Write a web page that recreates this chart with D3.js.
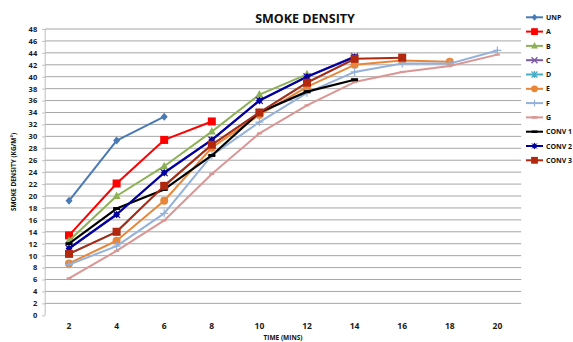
<!DOCTYPE html>
<html><head><meta charset="utf-8">
<script src="https://cdn.jsdelivr.net/npm/d3@7"></script>
<style>body{margin:0;background:#fff;overflow:hidden}svg{display:block;font-family:"Open Sans","Liberation Sans",sans-serif}</style>
</head><body><svg id="c" width="573" height="342"></svg>
<script>
const times = [2,4,6,8,10,12,14,16,18,20];
const yTicks = d3.range(0, 49, 2);
const UNP   = [19.2, 29.3, 33.3];
const A     = [13.4, 22.1, 29.4, 32.5];
const B     = [12.5, 20.0, 25.0, 30.8, 37.0, 40.4];
const C     = [11.2, 16.9, 23.9, 29.4, 36.0, 40.0, 43.4];
const D     = [10.3, 14.0, 21.7, 28.6, 34.0, 39.0, 43.0];
const E     = [8.7, 12.5, 19.2, 28.1, 33.6, 38.3, 42.0, 42.7, 42.5];
const F     = [8.5, 11.6, 17.1, 26.8, 32.4, 37.3, 40.8, 42.2, 42.2, 44.4];
const G     = [6.2, 10.8, 15.9, 23.7, 30.5, 35.2, 39.1, 40.8, 41.8, 43.7];
const CONV1 = [12.0, 17.9, 21.1, 26.8, 34.0, 37.5, 39.5];
const CONV2 = [11.2, 16.9, 23.9, 29.4, 36.0, 40.0, 43.3];
const CONV3 = [10.3, 14.0, 21.7, 28.6, 34.0, 39.0, 43.0, 43.2];
const names = ["UNP","A","B","C","D","E","F","G","CONV 1","CONV 2","CONV 3"];
const values = [UNP,A,B,C,D,E,F,G,CONV1,CONV2,CONV3];
const colors = ["#4a7ab5","#ff0000","#8db255","#7a5aa0","#4bacc6","#e8873a","#93b1db","#d99694","#000000","#0000a0","#b2280f"];
const markers = ["diamond","square","triangle","x","asterisk","circle","plus","dash","dash","diamondstar","square"];

const svg = d3.select("#c");
const m = {l:45.2, r:521.2, t:29, b:315.3};
const x = d3.scaleBand().domain(times).range([m.l, m.r]);
const y = d3.scaleLinear().domain([0,48]).range([m.b, m.t]);
const cx = t => x(t) + x.bandwidth()/2;

// grid
svg.append("g").selectAll("line").data(yTicks.filter(d=>d>0)).join("line")
  .attr("x1", m.l).attr("x2", m.r).attr("y1", d=>y(d)).attr("y2", d=>y(d))
  .attr("stroke", "#a6a6a6").attr("stroke-width", 1);
// left axis line
svg.append("line").attr("x1", m.l).attr("x2", m.l).attr("y1", m.t).attr("y2", m.b)
  .attr("stroke", "#bdbdbd").attr("stroke-width", 1);
// y tick labels
const ya = svg.append("g").attr("transform", `translate(${m.l},0)`)
  .call(d3.axisLeft(y).tickValues(yTicks).tickSize(3).tickPadding(5));
ya.select(".domain").remove();
ya.selectAll(".tick line").attr("stroke", "#bdbdbd");
ya.selectAll("text").attr("font-size", 7.5).attr("font-weight", "bold").attr("fill", "#1a1a1a")
  .attr("font-family", "'Open Sans',sans-serif");
// x tick labels
const xa = svg.append("g").attr("transform", `translate(0,${m.b})`)
  .call(d3.axisBottom(x).tickSize(0).tickPadding(8));
xa.select(".domain").remove();
xa.selectAll("text").attr("font-size", 8.5).attr("font-weight", "bold").attr("fill", "#1a1a1a")
  .attr("font-family", "'Open Sans',sans-serif");

// titles
svg.append("text").attr("x", 305).attr("y", 23).attr("text-anchor", "middle")
  .attr("font-size", 12.5).attr("font-weight", "bold").attr("fill", "#111").text("SMOKE DENSITY");
svg.append("text").attr("x", 283).attr("y", 339.5).attr("text-anchor", "middle")
  .attr("font-size", 6.5).attr("font-weight", "bold").attr("fill", "#111").text("TIME  (MINS)");
svg.append("text").attr("transform", "translate(16,172) rotate(-90)").attr("text-anchor", "middle")
  .attr("font-size", 6.5).attr("font-weight", "bold").attr("fill", "#111").text("SMOKE DENSITY (KG/M²)");

function drawMarker(g, type, color, px, py, s) {
  s = s || 1;
  switch (type) {
    case "diamond": g.append("path").attr("d", `M${px},${py-4*s}L${px+3.5*s},${py}L${px},${py+4*s}L${px-3.5*s},${py}Z`).attr("fill", color); break;
    case "diamondstar":
      g.append("path").attr("d", `M${px},${py-3.8*s}L${px+3.4*s},${py}L${px},${py+3.8*s}L${px-3.4*s},${py}Z`).attr("fill", color);
      g.append("path").attr("d", `M${px-3*s},${py-3*s}L${px+3*s},${py+3*s}M${px+3*s},${py-3*s}L${px-3*s},${py+3*s}`).attr("stroke", color).attr("stroke-width", 1);
      break;
    case "square": g.append("rect").attr("x", px-4*s).attr("y", py-4*s).attr("width", 8*s).attr("height", 8*s).attr("fill", color); break;
    case "triangle": g.append("path").attr("d", `M${px},${py-4.5*s}L${px+4*s},${py+3*s}L${px-4*s},${py+3*s}Z`).attr("fill", color); break;
    case "x": g.append("path").attr("d", `M${px-3.5*s},${py-3.5*s}L${px+3.5*s},${py+3.5*s}M${px+3.5*s},${py-3.5*s}L${px-3.5*s},${py+3.5*s}`).attr("stroke", color).attr("stroke-width", 1.3); break;
    case "asterisk": g.append("path").attr("d", `M${px-3.5*s},${py-3.5*s}L${px+3.5*s},${py+3.5*s}M${px+3.5*s},${py-3.5*s}L${px-3.5*s},${py+3.5*s}M${px},${py-4*s}L${px},${py+4*s}`).attr("stroke", color).attr("stroke-width", 1.3); break;
    case "circle": g.append("circle").attr("cx", px).attr("cy", py).attr("r", 4*s).attr("fill", color); break;
    case "plus": g.append("path").attr("d", `M${px-4*s},${py}L${px+4*s},${py}M${px},${py-4*s}L${px},${py+4*s}`).attr("stroke", color).attr("stroke-width", 1.2); break;
    case "dash": g.append("rect").attr("x", px-3.5*s).attr("y", py-1.5*s).attr("width", 7*s).attr("height", 3*s).attr("fill", color); break;
  }
}

const line = d3.line().x((d,i)=>cx(times[i])).y(d=>y(d));
const plot = svg.append("g");
values.forEach((vals, k) => {
  const g = plot.append("g");
  g.append("path").datum(vals).attr("d", line).attr("fill", "none")
    .attr("stroke", colors[k]).attr("stroke-width", k===8||k===9 ? 2.2 : 2).attr("stroke-linejoin", "round");
  vals.forEach((v,i) => drawMarker(g, markers[k], colors[k], cx(times[i]), y(v), markers[k]==="dash"&&k===7?0.7:1));
});

// legend
const lg = svg.append("g");
names.forEach((n,k) => {
  const ly = 17.3 + k*14.3;
  lg.append("line").attr("x1", 526).attr("x2", 543).attr("y1", ly).attr("y2", ly)
    .attr("stroke", colors[k]).attr("stroke-width", 2);
  drawMarker(lg, markers[k], colors[k], 534.5, ly, 0.85);
  lg.append("text").attr("x", 546).attr("y", ly+2.6).attr("font-size", 7).attr("font-weight", "bold")
    .attr("fill", "#111").text(n);
});
</script></body></html>
